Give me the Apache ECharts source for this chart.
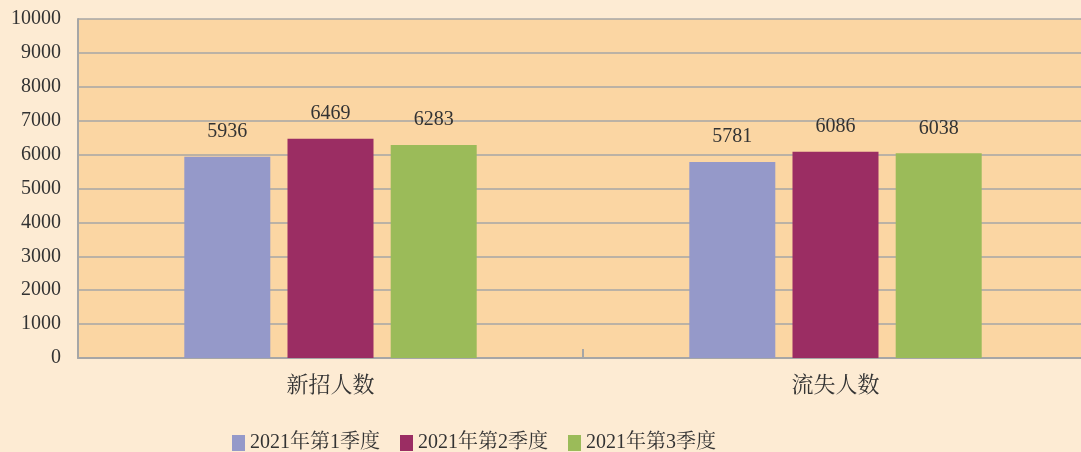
<!DOCTYPE html>
<html><head><meta charset="utf-8">
<script src="https://cdn.jsdelivr.net/npm/echarts@6/dist/echarts.min.js"></script>
<style>html,body{margin:0;padding:0;background:#FDEBD3;overflow:hidden;width:1081px;height:452px;}#c{width:1100px;height:452px;}</style>
</head><body><div id="c"></div>
<script>
const categories = ['新招人数', '流失人数'];
const seriesNames = ['2021年第1季度', '2021年第2季度', '2021年第3季度'];
const q1 = [5936, 5781];
const q2 = [6469, 6086];
const q3 = [6283, 6038];
const yTicks = [0, 1000, 2000, 3000, 4000, 5000, 6000, 7000, 8000, 9000, 10000];
const colors = ['#9599C9', '#9B2D63', '#9BBB59'];
const font = '"Liberation Serif", "Noto Serif CJK SC", "Noto Sans CJK SC", serif';
const chart = echarts.init(document.getElementById('c'));
const vals = [q1, q2, q3];
chart.setOption({
  backgroundColor: '#FDEBD3',
  animation: false,
  color: colors,
  textStyle: {fontFamily: font},
  grid: {left: 78, top: 19, width: 1010, height: 339, containLabel: false, show: true, backgroundColor: '#FBD6A3', borderWidth: 0},
  legend: {
    top: 428, left: 227, itemWidth: 13, itemHeight: 16, itemGap: 20, icon: 'rect',
    textStyle: {fontFamily: font, fontSize: 20, color: '#333'},
    data: seriesNames
  },
  xAxis: {
    type: 'category', data: categories,
    axisLine: {lineStyle: {color: '#A6A6A6', width: 2}},
    axisTick: {show: true, inside: true, length: 9, lineStyle: {color: '#A6A6A6', width: 2}},
    axisLabel: {fontFamily: font, fontSize: 22, color: '#333', margin: 17}
  },
  yAxis: {
    type: 'value', min: yTicks[0], max: yTicks[yTicks.length - 1], interval: yTicks[1] - yTicks[0],
    axisLine: {show: true, lineStyle: {color: '#A6A6A6', width: 2}},
    axisTick: {show: false},
    splitLine: {lineStyle: {color: '#A6A6A6', width: 1.5}},
    axisLabel: {fontFamily: font, fontSize: 20, color: '#333', margin: 17, formatter: v => String(v)}
  },
  series: seriesNames.map((n, i) => ({
    name: n, type: 'bar', data: vals[i], barWidth: 86, barGap: '20%',
    itemStyle: {color: colors[i]},
    label: {show: true, position: 'top', distance: 15, fontFamily: font, fontSize: 20, color: '#333'}
  }))
});
</script></body></html>
